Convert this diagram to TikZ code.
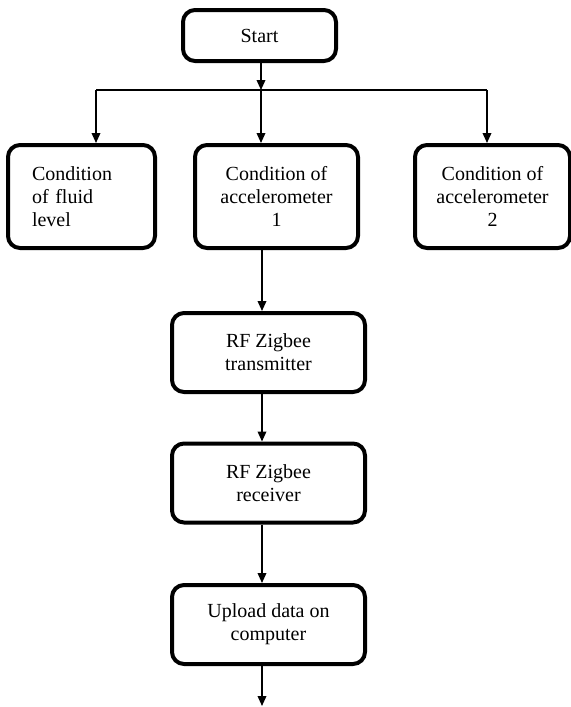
\documentclass[tikz,border=0pt]{standalone}
\usepackage{fontspec}
\setmainfont{Liberation Serif}
\usetikzlibrary{arrows.meta}

\tikzset{every picture/.style={line width=0.75pt}}
\tikzset{
  flowbox/.style={draw, line width=3pt, rounded corners=9pt, align=center,
    inner xsep=4pt, inner ysep=0pt, font=\fontsize{15}{17.25}\selectfont},
  flowarrow/.style={-{Triangle[length=7.5pt,width=6.5pt]}, line width=1.1pt},
}

\begin{document}
\begin{tikzpicture}[x=0.75pt,y=0.75pt,yscale=-1,xscale=1]
\useasboundingbox (0,0) rectangle (571,707);

%Rounded Rect: start
\node [flowbox, minimum width=114.75pt, minimum height=38.25pt] (start) at (259.5,35.5) {Start};

%Rounded Rect: conditions
\node [flowbox, align=left, text width=74.25pt, inner xsep=18pt, minimum height=77.25pt] (fluid) at (81.5,196.5) {Condition\\of fluid\\level};
\node [flowbox, minimum width=122.25pt, minimum height=77.25pt] (acc1) at (276.5,196.5) {Condition of\\accelerometer\\1};
\node [flowbox, minimum width=116.25pt, minimum height=77.25pt] (acc2) at (492.5,196.5) {Condition of\\accelerometer\\2};

%Rounded Rect: zigbee link
\node [flowbox, minimum width=144.75pt, minimum height=59.25pt] (tx) at (268.5,352.5) {RF Zigbee\\transmitter};
\node [flowbox, minimum width=144.75pt, minimum height=59.25pt] (rx) at (268.5,483) {RF Zigbee\\receiver};
\node [flowbox, minimum width=144.75pt, minimum height=59.25pt] (upload) at (268.5,624.5) {Upload data on\\computer};

% branch points
\coordinate (split) at (261,90);
\coordinate (bl) at (96,90);
\coordinate (br) at (487,90);
\coordinate (col) at (262,0);
\coordinate (finish) at (262,706);

%Straight Lines
\draw [flowarrow] (start.south -| split) -- (split);
\draw [line width=1.1pt] (bl) -- (br);
\draw [flowarrow] (bl) -- (bl |- fluid.north);
\draw [flowarrow] (split) -- (split |- acc1.north);
\draw [flowarrow] (br) -- (br |- acc2.north);

\draw [flowarrow] (acc1.south -| col) -- (tx.north -| col);
\draw [flowarrow] (tx.south -| col) -- (rx.north -| col);
\draw [flowarrow] (rx.south -| col) -- (upload.north -| col);
\draw [flowarrow] (upload.south -| finish) -- (finish);

\end{tikzpicture}
\end{document}
